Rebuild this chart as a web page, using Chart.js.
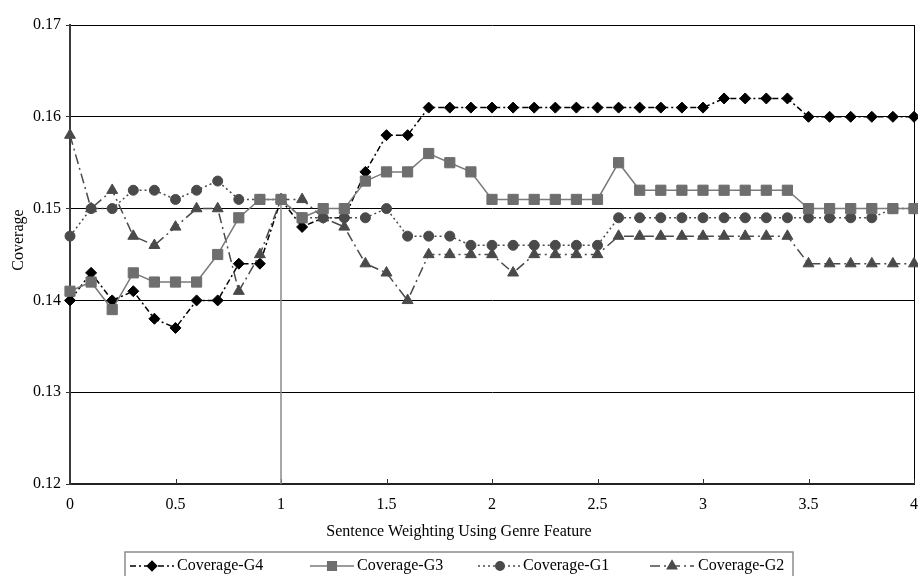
<!DOCTYPE html>
<html><head><meta charset="utf-8">
<script src="https://cdn.jsdelivr.net/npm/chart.js@4.4.0/dist/chart.umd.min.js"></script>
<style>html,body{margin:0;padding:0;background:#fff}#wrap{width:918px;height:576px;position:relative}</style>
</head><body><div id="wrap"><canvas id="c" width="918" height="576"></canvas></div>
<script>
const weights = [0,0.1,0.2,0.3,0.4,0.5,0.6,0.7,0.8,0.9,1.0,1.1,1.2,1.3,1.4,1.5,1.6,1.7,1.8,1.9,2.0,2.1,2.2,2.3,2.4,2.5,2.6,2.7,2.8,2.9,3.0,3.1,3.2,3.3,3.4,3.5,3.6,3.7,3.8,3.9,4.0];
const coverageG4 = [0.140,0.143,0.140,0.141,0.138,0.137,0.140,0.140,0.144,0.144,0.151,0.148,0.149,0.149,0.154,0.158,0.158,0.161,0.161,0.161,0.161,0.161,0.161,0.161,0.161,0.161,0.161,0.161,0.161,0.161,0.161,0.162,0.162,0.162,0.162,0.160,0.160,0.160,0.160,0.160,0.160];
const coverageG3 = [0.141,0.142,0.139,0.143,0.142,0.142,0.142,0.145,0.149,0.151,0.151,0.149,0.150,0.150,0.153,0.154,0.154,0.156,0.155,0.154,0.151,0.151,0.151,0.151,0.151,0.151,0.155,0.152,0.152,0.152,0.152,0.152,0.152,0.152,0.152,0.150,0.150,0.150,0.150,0.150,0.150];
const coverageG1 = [0.147,0.150,0.150,0.152,0.152,0.151,0.152,0.153,0.151,0.151,0.151,0.149,0.149,0.149,0.149,0.150,0.147,0.147,0.147,0.146,0.146,0.146,0.146,0.146,0.146,0.146,0.149,0.149,0.149,0.149,0.149,0.149,0.149,0.149,0.149,0.149,0.149,0.149,0.149,0.150,0.150];
const coverageG2 = [0.158,0.150,0.152,0.147,0.146,0.148,0.150,0.150,0.141,0.145,0.151,0.151,0.149,0.148,0.144,0.143,0.140,0.145,0.145,0.145,0.145,0.143,0.145,0.145,0.145,0.145,0.147,0.147,0.147,0.147,0.147,0.147,0.147,0.147,0.147,0.144,0.144,0.144,0.144,0.144,0.144];
const dropLineX = [1, 1];
const dropLineY = [0.12, 0.151];
const seriesNames = ['Coverage-G4','Coverage-G3','Coverage-G1','Coverage-G2'];
const yTicks = [0.12,0.13,0.14,0.15,0.16,0.17];
const xTicks = [0,0.5,1,1.5,2,2.5,3,3.5,4];
const xTitle = 'Sentence Weighting Using Genre Feature';
const yTitle = 'Coverage';

const FONT = "'Liberation Serif','Times New Roman',serif";
Chart.defaults.font.family = FONT;
Chart.defaults.font.size = 16;
Chart.defaults.color = '#000';

const pts = (xs, ys) => xs.map((x, i) => ({x: x, y: ys[i]}));

const styles = [
  {color:'#000000', line:'#000000', dash:[6,3,2,3], point:'rectRot', r:5.5, order:4},
  {color:'#6e6e6e', line:'#7a7a7a', dash:[], point:'rect', r:7.2, order:1},
  {color:'#4a4a4a', line:'#4a4a4a', dash:[2,3], point:'circle', r:5, order:2},
  {color:'#4a4a4a', line:'#4a4a4a', dash:[10,4,2,4], point:'triangle', r:6.3, order:3}
];
const seriesData = [coverageG4, coverageG3, coverageG1, coverageG2];

const datasets = seriesData.map((ys, i) => ({
  label: seriesNames[i],
  data: pts(weights, ys),
  borderColor: styles[i].line,
  backgroundColor: styles[i].color,
  pointBackgroundColor: styles[i].color,
  pointBorderColor: styles[i].color,
  pointBorderWidth: 1,
  borderWidth: 1.5,
  borderDash: styles[i].dash,
  pointStyle: styles[i].point,
  pointRadius: styles[i].r,
  showLine: true,
  tension: 0,
  clip: 10,
  order: styles[i].order
}));
datasets.push({
  label: 'drop',
  data: pts(dropLineX, dropLineY),
  borderColor: '#8a8a8a',
  borderWidth: 1.5,
  pointRadius: 0,
  showLine: true,
  order: 5
});

const decor = {
  id: 'decor',
  beforeDatasetsDraw(chart) {
    const {ctx, chartArea: a, scales} = chart;
    ctx.save();
    ctx.strokeStyle = '#000';
    ctx.lineWidth = 1;
    ctx.beginPath();
    ctx.moveTo(a.right + 0.5, a.top);
    ctx.lineTo(a.right + 0.5, a.bottom);
    ctx.stroke();
    ctx.strokeStyle = '#333';
    xTicks.forEach(v => {
      const px = Math.round(scales.x.getPixelForValue(v)) + 0.5;
      ctx.beginPath();
      ctx.moveTo(px, a.bottom);
      ctx.lineTo(px, a.bottom - 5);
      ctx.stroke();
    });
    ctx.restore();
  },
  afterDraw(chart) {
    const {ctx} = chart;
    ctx.save();
    ctx.fillStyle = '#000';
    ctx.font = '16px ' + FONT;
    ctx.textAlign = 'center';
    ctx.textBaseline = 'middle';
    ctx.fillText(xTitle, 459, 532);
    ctx.save();
    ctx.translate(19, 240);
    ctx.rotate(-Math.PI / 2);
    ctx.fillText(yTitle, 0, 0);
    ctx.restore();
    ctx.strokeStyle = '#8c8c8c';
    ctx.lineWidth = 1.5;
    ctx.strokeRect(125, 552, 668, 40);
    const sampleStart = [130, 310, 478, 650];
    const textStart = [177, 357, 523, 698];
    const ly = 566;
    seriesNames.forEach((name, i) => {
      const st = styles[i];
      ctx.save();
      ctx.strokeStyle = st.line;
      ctx.lineWidth = 1.5;
      ctx.setLineDash(st.dash);
      ctx.beginPath();
      ctx.moveTo(sampleStart[i], ly);
      ctx.lineTo(sampleStart[i] + 44, ly);
      ctx.stroke();
      ctx.setLineDash([]);
      ctx.fillStyle = st.color;
      ctx.strokeStyle = st.color;
      Chart.helpers.drawPoint(ctx, {pointStyle: st.point, radius: st.r * 0.85, rotation: 0, borderWidth: 1}, sampleStart[i] + 22, ly);
      ctx.restore();
      ctx.fillStyle = '#000';
      ctx.textAlign = 'left';
      ctx.fillText(name, textStart[i], ly);
    });
    ctx.restore();
  }
};

new Chart(document.getElementById('c'), {
  type: 'scatter',
  data: {datasets},
  options: {
    responsive: false,
    animation: false,
    layout: {autoPadding: false, padding: {left: 0, right: 4, top: 25, bottom: 0}},
    plugins: {legend: {display: false}, tooltip: {enabled: false}},
    scales: {
      x: {
        type: 'linear', min: 0, max: 4,
        afterBuildTicks: s => { s.ticks = xTicks.map(v => ({value: v})); },
        ticks: {padding: 0, maxRotation: 0, autoSkip: false, color: '#000',
          callback: v => String(Math.round(v * 10) / 10)},
        grid: {display: false, drawTicks: true, tickLength: 11},
        border: {display: true, color: '#222', width: 2},
        afterFit: s => { s.height = 92; s.paddingLeft = 0; s.paddingRight = 0; }
      },
      y: {
        type: 'linear', min: 0.12, max: 0.17,
        afterBuildTicks: s => { s.ticks = yTicks.map(v => ({value: v})); },
        ticks: {padding: 5, color: '#000', callback: v => v.toFixed(2)},
        grid: {color: '#000', lineWidth: 1, drawTicks: true, tickLength: 4, tickColor: '#333'},
        border: {display: true, color: '#3a3a3a', width: 2},
        afterFit: s => { s.width = 70; s.paddingTop = 0; s.paddingBottom = 0; }
      }
    }
  },
  plugins: [decor]
});
</script>
</body></html>
